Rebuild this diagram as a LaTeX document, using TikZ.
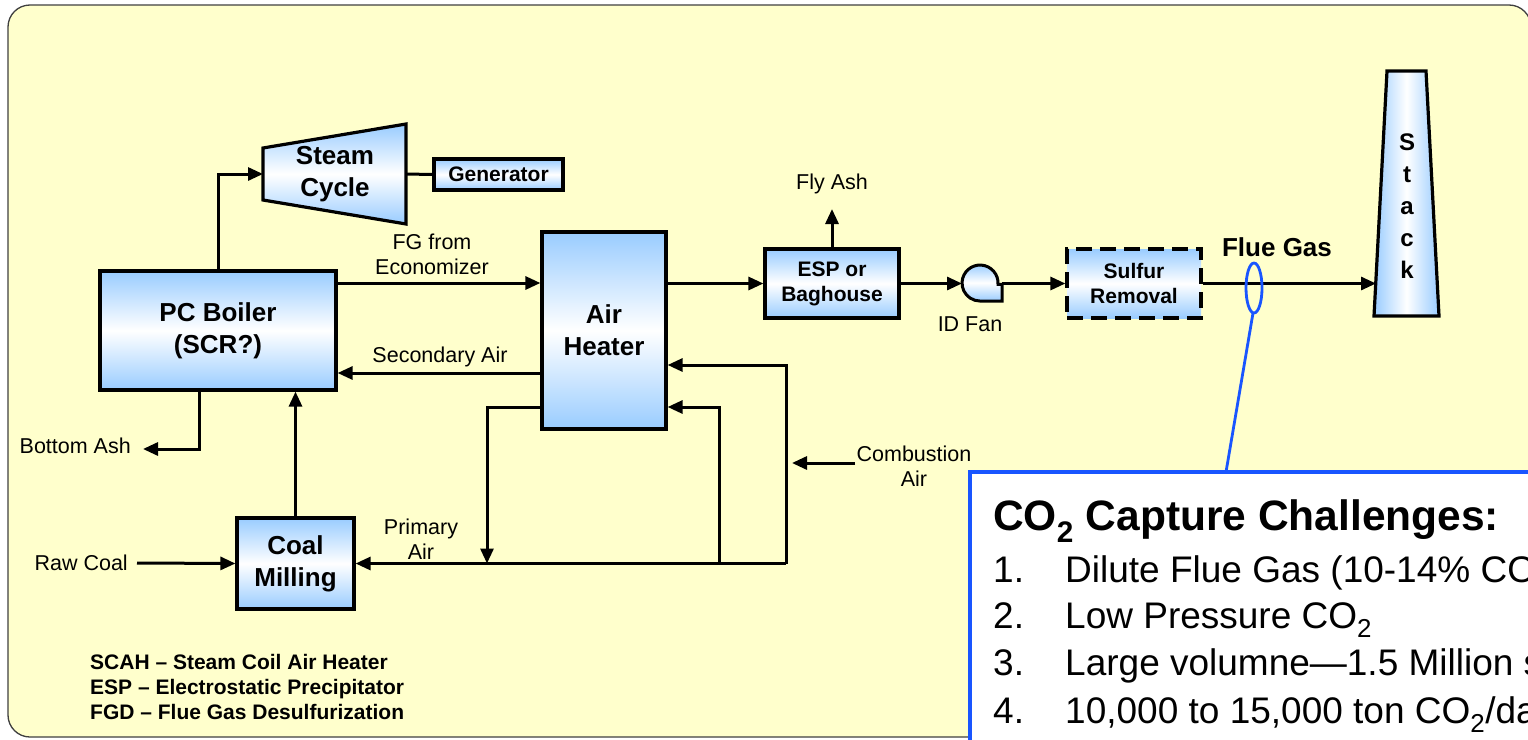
\documentclass[tikz,border=0pt]{standalone}
\usepackage{fontspec}
\setmainfont{Liberation Sans}
\usetikzlibrary{arrows.meta,calc}
\definecolor{bgyellow}{RGB}{255,255,204}
\definecolor{boxblue}{RGB}{153,204,255}
\definecolor{callblue}{RGB}{25,85,255}
\begin{document}
\begin{tikzpicture}[x=1pt,y=-1pt,
  shade/.style={top color=boxblue, bottom color=boxblue, middle color=white},
  box/.style={draw=black, line width=3.2pt, shade, inner sep=0pt, align=center},
  bigb/.style={font=\fontsize{26}{32}\selectfont\bfseries},
  midb/.style={font=\fontsize{21}{25}\selectfont\bfseries},
  lab/.style={font=\fontsize{21.5}{25.5}\selectfont, inner sep=0pt, align=center},
  leg/.style={font=\fontsize{21}{25}\selectfont\bfseries, inner sep=0pt, anchor=base west},
  ln/.style={line width=3pt},
  arr/.style={line width=3pt, -{Triangle[length=15pt,width=13pt]}},
  item/.style={font=\fontsize{37}{42}\selectfont, inner sep=0pt, anchor=base west}]
\useasboundingbox (0,0) rectangle (1528,739);
\clip (0,0) rectangle (1528,739);
\fill[white] (0,0) rectangle (1528,739);
\draw[fill=bgyellow, draw=black!75, line width=1.3pt, rounded corners=22pt] (8,5) rectangle (1531,737);

% main blocks
\node[box, bigb, minimum width=236pt, minimum height=119pt] (boiler) at (218,330.5) {PC Boiler\\(SCR?)};
\node[box, bigb, minimum width=124pt, minimum height=197pt] (ah) at (604,330.5) {Air\\Heater};
\node[box, midb, minimum width=134pt, minimum height=69pt] (esp) at (832,283.5) {ESP or\\Baghouse};
\node[box, midb, dash pattern=on 16pt off 8pt, minimum width=134pt, minimum height=69pt] (sulfur) at (1134,283.5) {Sulfur\\Removal};
\node[box, midb, minimum width=129pt, minimum height=31pt] (gen) at (498.5,174.5) {Generator};
\node[box, bigb, minimum width=117pt, minimum height=91pt] (coal) at (295.5,563.5) {Coal\\Milling};

% steam cycle turbine
\draw[line width=3.2pt, shade] (263,148) -- (406,124) -- (406,224) -- (263,200) -- cycle;
\node[bigb, align=center, inner sep=0pt] (steam) at (335,174) {Steam\\Cycle};
\coordinate (stL) at (263,174);
\coordinate (stR) at (406,174);

% ID fan
\draw[line width=3pt, shade] (998,284.3) arc[start angle=-4, end angle=270, radius=18pt] -- (1002,301) -- (1002,284.3) -- cycle;
\coordinate (fanW) at (962,283.5);
\coordinate (fanOut) at (1002,283.5);

% stack
\draw[line width=3.2pt, left color=boxblue, right color=boxblue, middle color=white] (1387,71) -- (1426,71) -- (1439,316) -- (1374,316) -- cycle;
\node[font=\fontsize{24}{32}\selectfont\bfseries, align=center, inner sep=0pt] (stack) at (1407,206) {S\\t\\a\\c\\k};
\coordinate (stackin) at (1376,283.5);

% labels
\node[lab] (fglab) at (432,254.5) {FG from\\Economizer};
\node[lab] (seclab) at (440,357) {Secondary Air};
\node[lab] (flyash) at (832,184) {Fly Ash};
\node[lab] (idfan) at (970,324) {ID Fan};
\node[lab, anchor=east] (botash) at (131,446) {Bottom Ash};
\node[lab, anchor=east] (rawcoal) at (128,563) {Raw Coal};
\node[lab] (primlab) at (421,539) {Primary\\Air};
\node[lab] (comblab) at (914,466) {Combustion\\Air};
\node[bigb, inner sep=0pt] (fluegas) at (1277,247) {Flue Gas};

% helper coordinates
\coordinate (fgy) at (0,283);
\coordinate (secy) at (0,373);
\coordinate (ly) at (0,407);
\coordinate (ry) at (0,365);
\coordinate (pa) at (487,563.5);
\coordinate (jR) at (786,563.5);
\coordinate (jM) at (719,563.5);
\coordinate (combS) at (855,463);
\coordinate (combT) at (792,463);
\coordinate (flytip) at (832,209);
\coordinate (bax) at (199,0);
\coordinate (batip) at (143,449);

% connectors
\draw[arr] (boiler.north) |- (stL);
\draw[ln] (stR) -- (gen.west);
\draw[arr] (boiler.east |- fgy) -- (ah.west |- fgy);
\draw[arr] (ah.east |- esp.west) -- (esp.west);
\draw[arr] (esp.north) -- (flytip);
\draw[arr] (esp.east) -- (fanW);
\draw[arr] (fanOut) -- (sulfur.west);
\draw[arr] (sulfur.east) -- (stackin);
\draw[arr] (ah.west |- secy) -- (boiler.east |- secy);
\draw[arr] (ah.west |- ly) -| (pa);
\draw[arr] (jR) -- (coal.east);
\draw[arr] (jR) |- (ah.east |- ry);
\draw[arr] (jM) |- (ah.east |- ly);
\draw[arr] (combS) -- (combT);
\draw[arr] (coal.north) -- (coal.north |- boiler.south);
\draw[arr] (boiler.south -| bax) |- (batip);
\draw[arr] ([xshift=9pt]rawcoal.east) -- (coal.west);

% legend
\node[leg] (leg1) at (90,669.5) {SCAH \textendash\ Steam Coil Air Heater};
\node[leg] (leg2) at (90,694.5) {ESP \textendash\ Electrostatic Precipitator};
\node[leg] (leg3) at (90,719.5) {FGD \textendash\ Flue Gas Desulfurization};

% callout
\draw[callblue, line width=2.8pt] (1254,288) ellipse [x radius=8pt, y radius=25pt];
\coordinate (ellB) at (1253,313);
\coordinate (calltop) at (1226,472);
\draw[callblue, line width=2.8pt] (ellB) -- (calltop);
\draw[callblue, line width=3.6pt, fill=white] (970,472) rectangle (1560,780);
\node[anchor=base west, font=\fontsize{42.5}{48}\selectfont\bfseries, inner sep=0pt] (ctitle) at (993,530) {CO\textsubscript{2} Capture Challenges:};
\node[item] (n1) at (993,582) {1.};
\node[item] (t1) at (1065,582) {Dilute Flue Gas (10-14\% CO\textsubscript{2})};
\node[item] (n2) at (993,628) {2.};
\node[item] (t2) at (1065,628) {Low Pressure CO\textsubscript{2}};
\node[item] (n3) at (993,675) {3.};
\node[item] (t3) at (1065,675) {Large volumne\textemdash 1.5 Million scfm};
\node[item] (n4) at (993,723) {4.};
\node[item] (t4) at (1065,723) {10,000 to 15,000 ton CO\textsubscript{2}/day};
\end{tikzpicture}
\end{document}
